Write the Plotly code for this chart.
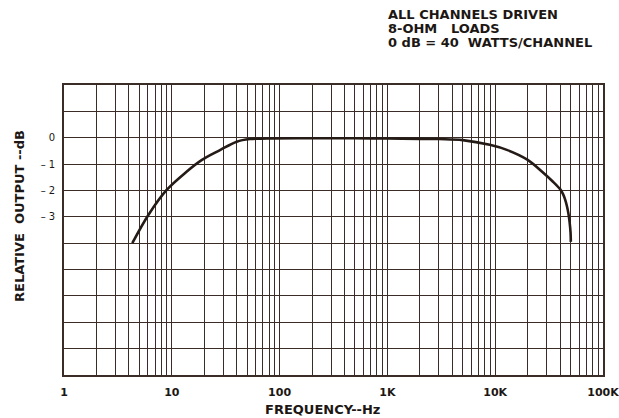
import plotly.graph_objects as go

# Frequency response data (Hz, dB)
freq_hz = [4.3, 6.06, 8.96, 13.7, 18.9, 28, 40, 53, 76, 150, 500, 1000, 3000, 5000,
           8900, 13000, 20000, 27900, 34000, 40000, 42500, 44400, 46300, 47700, 49000, 50000, 50300]
output_db = [-4.0, -2.93, -1.98, -1.29, -0.85, -0.47, -0.15, -0.05, -0.03, -0.02, -0.02, -0.03, -0.05, -0.09,
             -0.27, -0.47, -0.84, -1.33, -1.65, -1.95, -2.13, -2.33, -2.6, -2.86, -3.2, -3.6, -3.95]

# Axis ticks
decade_labels = ["1", "10", "100", "1K", "10K"]
x_tickvals = [m * 10 ** k for k in range(5) for m in range(1, 10)] + [100000]
x_ticktext = [(decade_labels[k] if m == 1 else "") for k in range(5) for m in range(1, 10)] + ["100K"]
y_tickvals = list(range(-9, 3))
y_labels = {0: "0", -1: "\u2013 1", -2: "\u2013 2", -3: "\u2013 3"}
y_ticktext = [y_labels.get(v, "") for v in y_tickvals]

header_lines = ["ALL CHANNELS DRIVEN", "8-OHM\u00a0\u00a0\u00a0LOADS", "0 dB = 40\u00a0\u00a0WATTS/CHANNEL"]

grid_color = "#3a2d27"
ink = "#1c1714"
font_family = "DejaVu Sans"

fig = go.Figure()
fig.add_trace(go.Scatter(
    x=freq_hz, y=output_db, mode="lines",
    line=dict(color="#241a16", width=2.6, shape="spline", smoothing=1.0),
    hoverinfo="skip", showlegend=False,
))

plot_l, plot_r, plot_t, plot_b = 64, 603, 85, 375

fig.update_layout(
    width=619, height=418,
    margin=dict(l=plot_l, r=619 - plot_r, t=plot_t, b=418 - plot_b, autoexpand=False),
    paper_bgcolor="white", plot_bgcolor="white",
    font=dict(family=font_family, color=ink),
    xaxis=dict(
        type="log", range=[0, 5], automargin=False,
        tickmode="array", tickvals=x_tickvals, ticktext=x_ticktext,
        showgrid=True, gridcolor=grid_color, gridwidth=1.3,
        showline=True, mirror=True, linecolor=grid_color, linewidth=1.6,
        ticks="", zeroline=False,
        tickfont=dict(size=11, family=font_family, color=ink, weight="bold"),
        ticklabelstandoff=6, ticklabeloverflow="allow",
    ),
    yaxis=dict(
        range=[-9, 2], automargin=False,
        tickmode="array", tickvals=y_tickvals, ticktext=y_ticktext,
        showgrid=True, gridcolor=grid_color, gridwidth=1.3,
        showline=True, mirror=True, linecolor=grid_color, linewidth=1.6,
        ticks="", zeroline=False,
        tickfont=dict(size=10, family=font_family, color=ink),
        ticklabelstandoff=5,
    ),
)

annots = [
    dict(text="FREQUENCY--Hz", px=322, py=409, anchor="center", size=13, angle=0),
    dict(text="RELATIVE\u00a0\u00a0OUTPUT\u00a0--dB", px=19, py=216, anchor="center", size=13, angle=-90),
] + [
    dict(text=t, px=386, py=y, anchor="left", size=13, angle=0)
    for t, y in zip(header_lines, [14, 28.5, 43])
]
for a in annots:
    fig.add_annotation(
        text=a["text"], xref="paper", yref="paper",
        x=(a["px"] - plot_l) / (plot_r - plot_l),
        y=(plot_b - a["py"]) / (plot_b - plot_t),
        xanchor=a["anchor"], yanchor="middle", textangle=a["angle"],
        showarrow=False, font=dict(size=a["size"], weight="bold", color=ink),
    )

fig.write_html("out.html", config={"displayModeBar": False},
               post_script="document.body.style.margin='0';document.body.style.padding='0';")
